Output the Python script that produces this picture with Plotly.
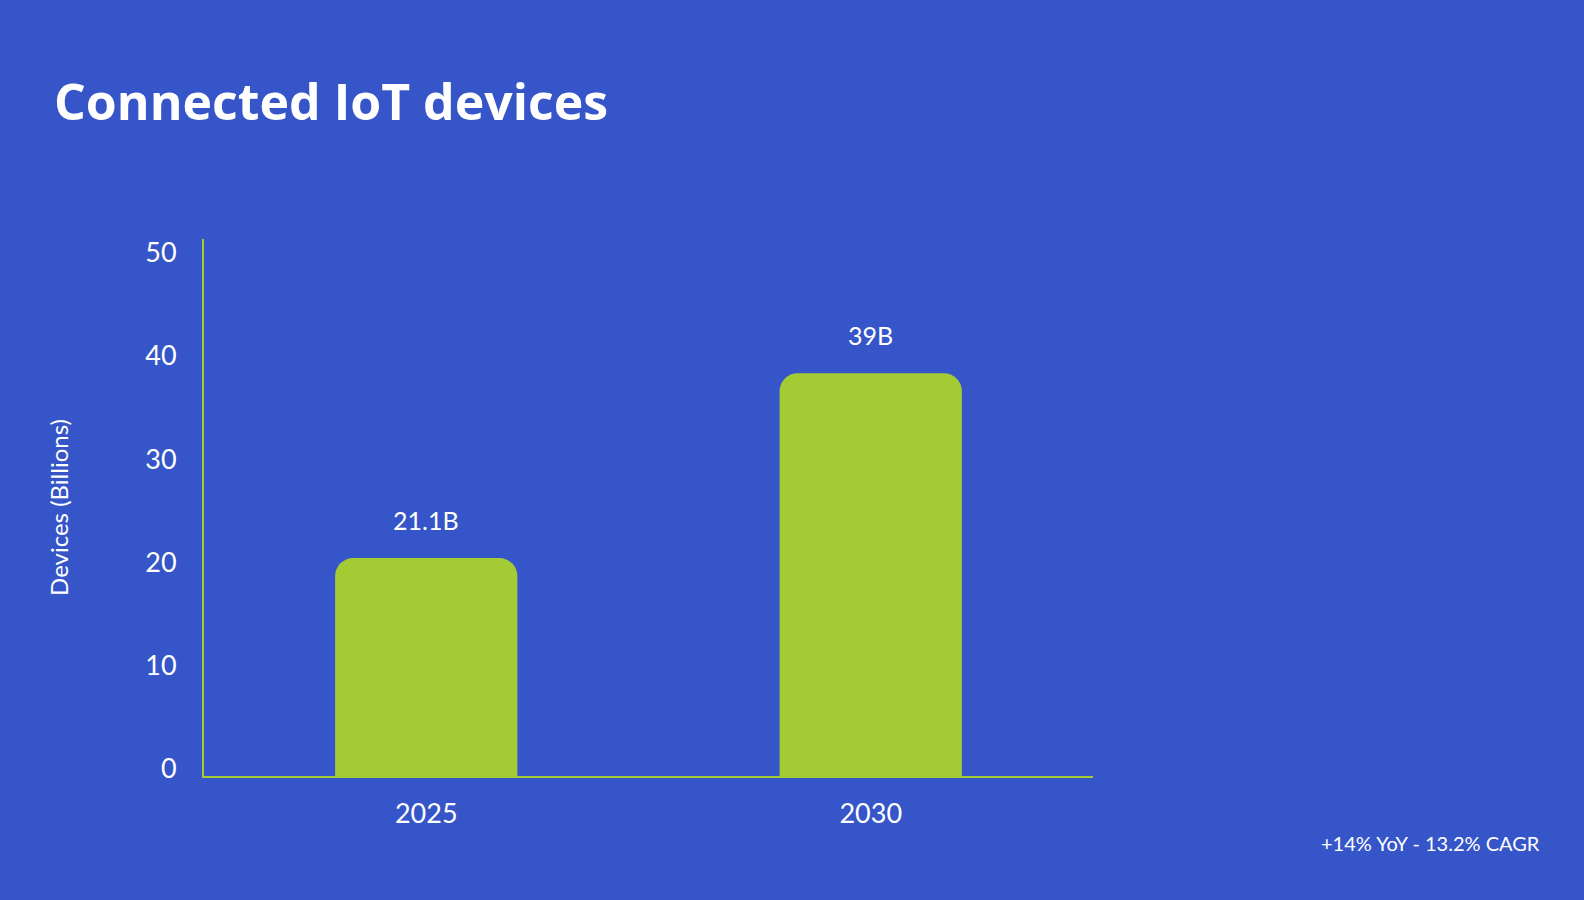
import plotly.graph_objects as go

# chart data
years = ['2025', '2030']
devices_bn = [21.1, 39]
bar_labels = ['21.1B', '39B']
y_ticks = [0, 10, 20, 30, 40, 50]

title_text = 'Connected IoT devices'
y_title = 'Devices (Billions)'
note_text = '+14% YoY - 13.2% CAGR'

BG = '#3555C8'
LIME = '#A4CB33'
FONT = 'Lato'

fig = go.Figure(go.Bar(
    x=years,
    y=devices_bn,
    marker=dict(color=LIME, cornerradius=18, line=dict(width=0)),
    hoverinfo='skip',
))

# value labels above the bars (x given as category index)
for i, (v, lab) in enumerate(zip(devices_bn, bar_labels)):
    fig.add_annotation(x=i, y=v, text=lab, showarrow=False,
                       yshift=38, font=dict(family=FONT, size=25, color='white'))

fig.add_annotation(xref='paper', yref='paper', x=1.505, y=-0.125,
                   xanchor='right', yanchor='middle', text=note_text,
                   showarrow=False, font=dict(family=FONT, size=20, color='white'))

fig.update_layout(
    width=1584, height=900,
    paper_bgcolor=BG, plot_bgcolor=BG,
    margin=dict(l=204, r=491, t=239, b=124),
    bargap=0.59,
    showlegend=False,
    title=dict(text=f'<b>{title_text}</b>', x=54/1584, xanchor='left',
               y=1 - 102/900, yanchor='middle',
               font=dict(family='Open Sans', size=50, color='white')),
    font=dict(family=FONT, color='white'),
)

fig.update_xaxes(
    type='category', range=[-0.5, len(years) - 0.5],
    showline=True, linecolor=LIME, linewidth=2,
    showgrid=False, zeroline=False, ticks='',
    ticklabelstandoff=13,
    tickfont=dict(family=FONT, size=27, color='white'),
)

fig.update_yaxes(
    range=[0, 52], tickvals=y_ticks,
    showline=True, linecolor=LIME, linewidth=2,
    showgrid=False, zeroline=False, ticks='',
    ticklabelstandoff=20, ticklabelshift=-7,
    tickfont=dict(family=FONT, size=27, color='white'),
    title=dict(text=y_title, standoff=70,
               font=dict(family=FONT, size=24, color='white')),
)

fig.write_html('out.html', config={'displayModeBar': False},
               post_script="document.body.style.margin='0';")
